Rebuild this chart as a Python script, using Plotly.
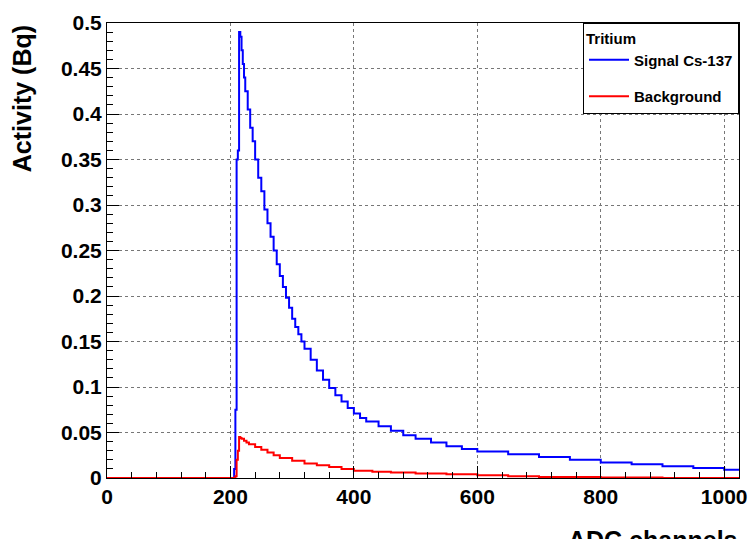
import plotly.graph_objects as go

# bin left edges (ADC channels) and bin contents (Bq)
sig_x = [0, 206, 208, 210, 212, 214, 216, 218, 220, 222, 224, 228, 232, 236, 240, 245, 250, 255, 260,
         265, 270, 275, 280, 285, 290, 295, 300, 305, 310, 315, 320, 330, 340, 350, 360, 370, 380, 390, 400,
         410, 420, 440, 460, 480, 500, 525, 550, 575, 600, 650, 700, 750, 800, 850, 900, 950, 1000, 1024]
sig_y = [0, 0.01, 0.075, 0.35, 0.36, 0.49, 0.485, 0.47, 0.455, 0.44, 0.425, 0.405, 0.385, 0.37, 0.35,
         0.33, 0.315, 0.295, 0.28, 0.265, 0.25, 0.235, 0.222, 0.21, 0.198, 0.187, 0.175, 0.166, 0.158,
         0.15, 0.142, 0.13, 0.118, 0.108, 0.099, 0.091, 0.084, 0.077, 0.071, 0.066, 0.062, 0.057, 0.052,
         0.047, 0.043, 0.039, 0.035, 0.032, 0.029, 0.026, 0.023, 0.02, 0.017, 0.015, 0.013, 0.011, 0.009, 0.009]

bkg_x = [0, 208, 210, 212, 214, 216, 218, 222, 226, 230, 240, 250, 260, 270, 280, 300, 320, 340,
         360, 380, 400, 430, 460, 500, 550, 600, 650, 700, 800, 900, 1024]
bkg_y = [0, 0.002, 0.02, 0.03, 0.045, 0.044, 0.043, 0.041, 0.039, 0.037, 0.034, 0.031, 0.028, 0.025,
         0.022, 0.019, 0.016, 0.014, 0.012, 0.01, 0.008, 0.007, 0.006, 0.005, 0.004, 0.003, 0.002,
         0.001, 0.0005, 0.0, 0.0]

fig = go.Figure()
fig.add_trace(go.Scatter(x=sig_x, y=sig_y, mode="lines", line_shape="hv", legendgroup="s",
                         line=dict(color="#0000ff", width=2), name="<b>Signal Cs-137</b>"))
fig.add_trace(go.Scatter(x=bkg_x, y=bkg_y, mode="lines", line_shape="hv", legendgroup="b",
                         line=dict(color="#ff0000", width=2), name="<b>Background</b>"))

axis_common = dict(showline=True, linecolor="black", linewidth=1, mirror=True, automargin=False,
                   ticks="inside", ticklen=12, tickcolor="black",
                   showgrid=True, gridcolor="#777777", griddash="dot", gridwidth=1,
                   zeroline=False, tickfont=dict(size=21, color="black", weight="bold"))

fig.update_layout(
    width=756, height=539,
    paper_bgcolor="white", plot_bgcolor="white",
    font=dict(family="Liberation Sans, Arial", color="black"),
    margin=dict(l=99, r=25, t=15, b=69, autoexpand=False),
    showlegend=True,
    legend=dict(x=1, y=1, xanchor="right", yanchor="top", bordercolor="black", borderwidth=1,
                bgcolor="white", font=dict(size=15), title=dict(text="<b>Tritium</b>", font=dict(size=15)),
                tracegroupgap=14, itemwidth=40),
    xaxis=dict(range=[0, 1024], dtick=200, tickformat="d",
               minor=dict(dtick=40, ticks="inside", ticklen=6, tickcolor="black", showgrid=False),
               **axis_common),
    yaxis=dict(range=[0, 0.5], dtick=0.05,
               minor=dict(dtick=0.01, ticks="inside", ticklen=6, tickcolor="black", showgrid=False),
               **axis_common),
    annotations=[
        dict(text="<b>ADC channels</b>", x=1, y=-0.1, xref="paper", yref="paper",
             xanchor="right", yanchor="top", showarrow=False, font=dict(size=25)),
        dict(text="<b>Activity (Bq)</b>", x=-0.135, y=1, xref="paper", yref="paper",
             xanchor="center", yanchor="top", textangle=-90, showarrow=False, font=dict(size=25)),
    ],
)

fig.write_html("out.html")
